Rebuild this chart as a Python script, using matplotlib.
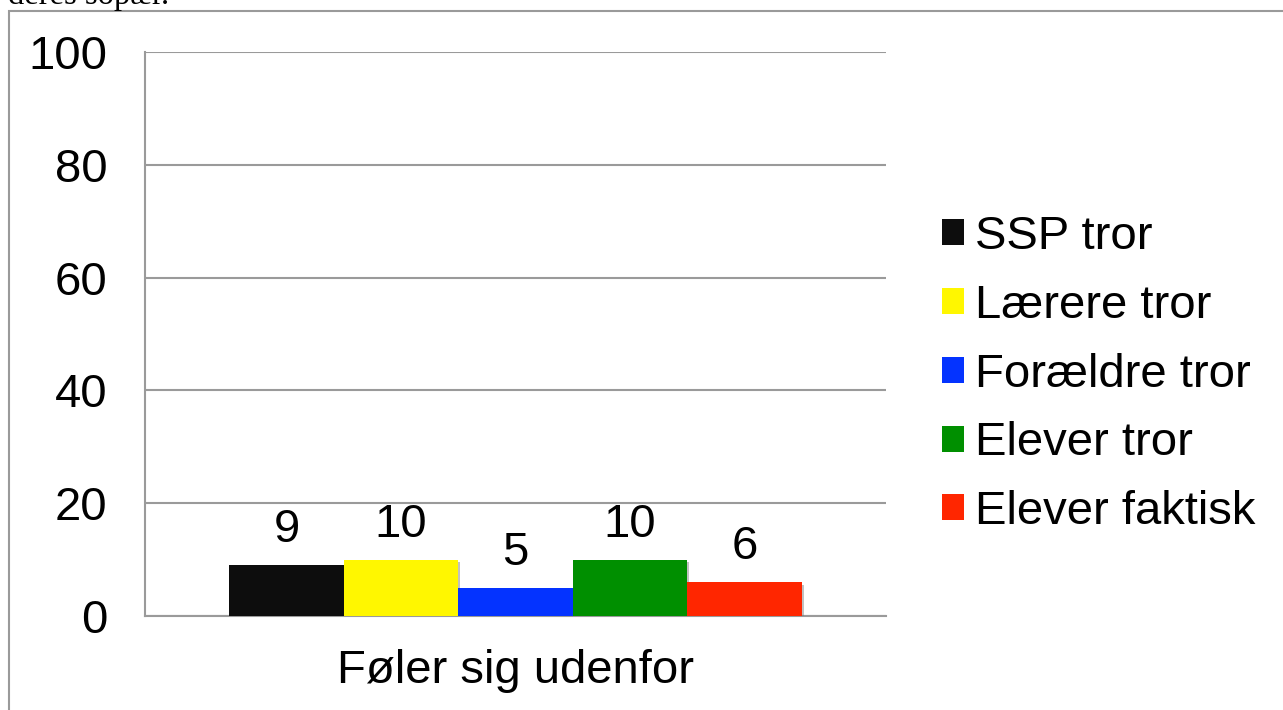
import matplotlib
matplotlib.use("Agg")
import matplotlib.pyplot as plt
from matplotlib.patches import Rectangle
from matplotlib.legend_handler import HandlerPatch
import matplotlib.patheffects as pe

categories = ["Føler sig udenfor"]
series = ["SSP tror", "Lærere tror", "Forældre tror", "Elever tror", "Elever faktisk"]
values = [9, 10, 5, 10, 6]
colors = ["#0d0d0d", "#fff700", "#0433ff", "#008f00", "#ff2600"]
yticks = [0, 20, 40, 60, 80, 100]

W, H = 1283, 710
fig = plt.figure(figsize=(W / 100, H / 100), dpi=100)
fig.patch.set_facecolor("white")
font = "Liberation Sans"
FS = 34

# outer frame (clipped by figure edges)
fig.add_artist(Rectangle((8.5 / W, -0.1), 1.2, (H - 10.5) / H + 0.1,
                         transform=fig.transFigure, fill=False,
                         edgecolor="#9a9a9a", linewidth=1.5))
# clipped text above frame
fig.text(8 / W, 1 - 4 / H, "deres sopær.", family="Liberation Serif",
         fontsize=23.5, va="baseline", ha="left", color="black")

ax = fig.add_axes([145 / W, 1 - 616 / H, (886 - 145) / W, (616 - 52) / H])
n = len(series)
bw = 0.773 / n
start = -0.773 / 2
for i, (s, v, c) in enumerate(zip(series, values, colors)):
    x = start + bw * (i + 0.5)
    ax.bar(x, v, width=bw, color=c, label=s, zorder=3,
           path_effects=[pe.SimplePatchShadow(offset=(1.5, -2), shadow_rgbFace="#777777", alpha=0.45),
                         pe.Normal()])
    ax.annotate(str(v), (x, v), xytext=(0, 16.6), textcoords="offset points",
                ha="center", va="baseline", fontsize=FS, family=font, zorder=4)

ax.set_xlim(-0.5, 0.5)
ax.set_ylim(0, 100)
ax.set_yticks(yticks)
ax.set_yticklabels([str(t) for t in yticks], family=font, fontsize=FS)
ax.set_xticks([0])
ax.set_xticklabels(categories, family=font, fontsize=FS)
ax.tick_params(axis="both", length=0)
ax.tick_params(axis="y", pad=27)
ax.tick_params(axis="x", pad=24)
ax.grid(axis="y", color="#9a9a9a", linewidth=1.5, zorder=0)
for side in ["top", "right"]:
    ax.spines[side].set_visible(False)
for side in ["left", "bottom"]:
    ax.spines[side].set_color("#9a9a9a")
    ax.spines[side].set_linewidth(1.5)


def raised_square(legend, orig_handle, xdescent, ydescent, width, height, fontsize):
    return Rectangle((-xdescent, -ydescent + 13 * 72 / 100), width, height)


handles, labels = ax.get_legend_handles_labels()
leg = fig.legend(handles, labels, loc="upper left",
                 bbox_to_anchor=(942 / W, 1 - 215 / H),
                 frameon=False, prop={"family": font, "size": FS},
                 handlelength=0.466, handleheight=0.466, handletextpad=0.23,
                 labelspacing=0.525, borderaxespad=0, borderpad=0,
                 handler_map={Rectangle: HandlerPatch(patch_func=raised_square)})
for h in leg.legend_handles:
    h.set_path_effects([])

fig.savefig("out.png", dpi=100, facecolor="white")
